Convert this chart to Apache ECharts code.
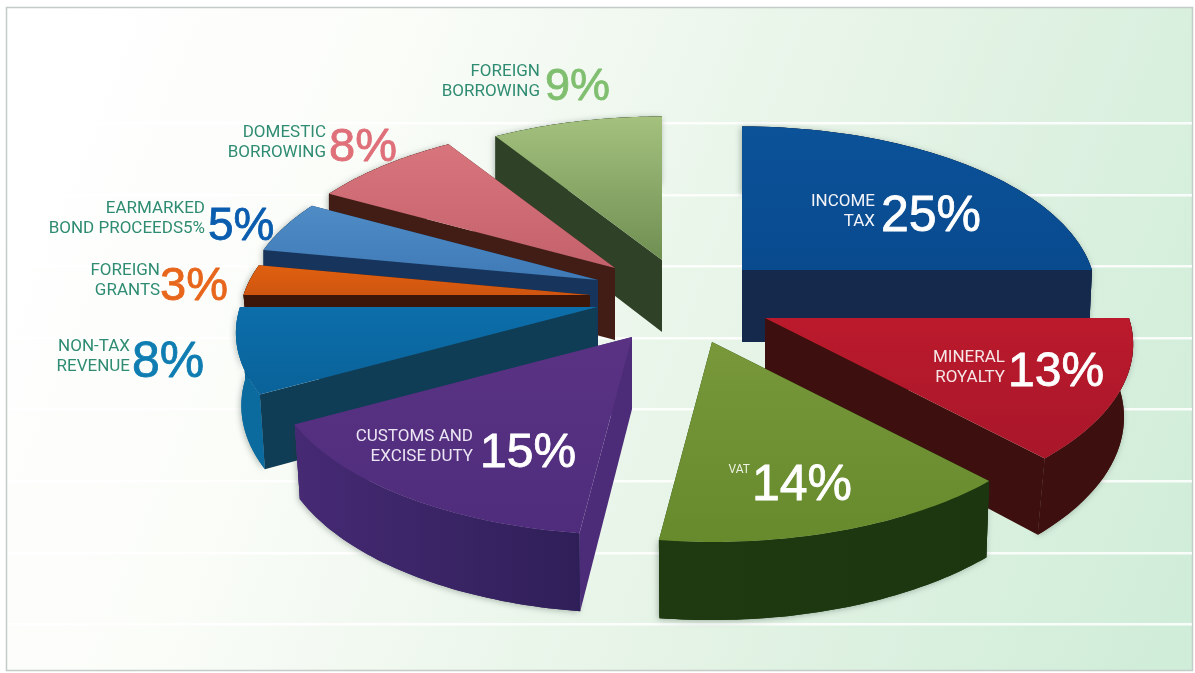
<!DOCTYPE html>
<html>
<head>
<meta charset="utf-8">
<style>html,body{margin:0;padding:0;background:#fff}#chart{width:1195px;height:673px}</style>
<script src="https://cdn.jsdelivr.net/npm/echarts@6/dist/echarts.min.js"></script>
</head>
<body>
<div id="chart"></div>
<script>
// Revenue sources, clockwise from twelve o'clock, in percent of the total.
const sources = ['INCOME\nTAX', 'MINERAL\nROYALTY', 'VAT', 'CUSTOMS AND\nEXCISE DUTY', 'NON-TAX\nREVENUE',
  'FOREIGN\nGRANTS', 'EARMARKED\nBOND PROCEEDS5%', 'DOMESTIC\nBORROWING', 'FOREIGN\nBORROWING'];
const shares = [25, 13, 14, 15, 8, 3, 5, 8, 9];

// Exploded position of each wedge's tip, its radial scale and how far its base tucks inward.
const tipX = [742, 765, 712, 632, 597, 590, 598, 615, 662];
const tipY = [270, 318, 342, 337, 307, 295, 280, 268, 260];
const radialScale = [1, 1.04, 1.03, 1.02, 1.02, 0.99, 1, 1, 1];
const baseInset = [0.99, 0.975, 0.99, 0.985, 0.985, 0.98, 1, 1, 1];

// Face colours of each wedge.
const topLight = ['#0b5299', '#bb1a2c', '#78983a', '#5a3284', '#0c6eaa', '#e0600f', '#4f8cc6', '#d8747c', '#a4c17e'];
const topDark = ['#094a8e', '#a9162a', '#668a2c', '#4f2d7c', '#0a6299', '#cf5510', '#3f7ab6', '#c4626c', '#6f8f52'];
const wallLeft = ['#14294b', '#3d0f0e', '#1f3a10', '#462a74', '#0b6a9e', '#3c1608', '#17355c', '#421d16', '#2f4228'];
const wallRight = ['#14294b', '#3d0f0e', '#1c3610', '#2f1f58', '#0b6a9e', '#3c1608', '#17355c', '#421d16', '#2f4228'];
const radialFace = ['#14294b', '#3d0f0e', '#1f3a10', '#4c2c78', '#103d56', '#3c1608', '#17355c', '#421d16', '#2f4228'];

// Percentage anchors, and where each caption ends.
const labelX = [881, 1008, 752, 480, 132, 160, 208, 329, 545];
const labelY = [217, 373, 486, 454, 363, 287, 227, 148, 88];
const labelSize = [50, 48, 50, 48, 50, 47, 46, 47, 45];
const captionX = [875, 1005, 750, 473, 130, 160, 205, 326, 540];
const captionY = [212, 368, 470, 447, 357, 281, 219, 143, 82];
const captionColor = ['#f4f4f8', '#f6e6e6', '#eef2e4', '#ece6f4', '#2f8c72', '#2f8c72', '#2f8c72', '#2f8c72', '#2f8c72'];
const percentColor = ['#ffffff', '#ffffff', '#ffffff', '#ffffff', '#0f7db2', '#e8661c', '#0a5cae', '#df6f79', '#80bf70'];

// Horizontal bands of the backdrop.
const bandY = [122, 194, 265, 337, 408, 480, 552, 623];

const RX = 350, RY = 165, TILT = 0.15, DEPTH = 72;

// Cumulative share to clockwise angle from twelve o'clock.
const startAngle = [];
shares.reduce((sum, v, i) => { startAngle[i] = sum / 100 * Math.PI * 2; return sum + v; }, 0);

// Project a point of the tilted disc: nearer parts appear larger.
function project(i, theta, down) {
  const u = Math.sin(theta), v = Math.cos(theta);
  const f = 1 / (1 + TILT * v);
  const s = radialScale[i];
  const x = tipX[i] + RX * s * u * f;
  const y = tipY[i] - RY * s * v * f;
  if (!down) return [x, y];
  return [tipX[i] + (x - tipX[i]) * baseInset[i], y + DEPTH * Math.sqrt(f)];
}

function tipPoint(i, down) {
  return [tipX[i], tipY[i] + (down ? DEPTH : 0)];
}

function arc(i, a0, a1, down) {
  const pts = [];
  const n = 48;
  for (let k = 0; k <= n; k++) pts.push(project(i, a0 + (a1 - a0) * k / n, down));
  return pts;
}

// Painter's order: wedges with a tip further up the page are drawn first.
const paintRank = tipY.map((y, i) => [y, i]).sort((a, b) => a[0] - b[0]).map(p => p[1]);

function renderWedge(params, api) {
  const i = params.dataIndex;
  const value = api.value(0);
  const a0 = startAngle[i];
  const a1 = a0 + value / 100 * Math.PI * 2;
  const base = (paintRank.indexOf(i) + 1) * 10;
  const wallPoints = arc(i, a0, a1, false).concat(arc(i, a0, a1, true).reverse());
  const wallFill = {
    type: 'linear', x: 0, y: 0, x2: 1, y2: 0,
    colorStops: [{ offset: 0, color: wallLeft[i] }, { offset: 1, color: wallRight[i] }]
  };

  // The soft drop shadow sits under the whole wedge, so it never falls on its own faces.
  const shadowed = {
    type: 'polygon',
    z2: base - 1,
    shape: { points: wallPoints },
    style: {
      fill: wallFill,
      shadowBlur: 6, shadowColor: 'rgba(30,50,40,0.35)', shadowOffsetX: -1, shadowOffsetY: 1
    }
  };
  const radial = a => ({
    type: 'polygon',
    z2: base,
    shape: { points: [tipPoint(i, false), project(i, a, false), project(i, a, true), tipPoint(i, true)] },
    style: { fill: radialFace[i] }
  });
  const outer = {
    type: 'polygon',
    z2: base + 1,
    shape: { points: wallPoints },
    style: { fill: wallFill }
  };
  const top = {
    type: 'polygon',
    z2: base + 2,
    shape: { points: [tipPoint(i, false)].concat(arc(i, a0, a1, false)) },
    style: {
      fill: {
        type: 'linear', x: 0, y: 0, x2: 0, y2: 1,
        colorStops: [{ offset: 0, color: topLight[i] }, { offset: 1, color: topDark[i] }]
      }
    }
  };
  const percent = {
    type: 'text',
    z2: 200,
    style: {
      text: value + '%', x: labelX[i], y: labelY[i],
      align: 'left', verticalAlign: 'middle',
      fontFamily: 'Liberation Sans', fontSize: labelSize[i],
      fill: percentColor[i], stroke: percentColor[i], lineWidth: 0.8
    }
  };
  const caption = {
    type: 'text',
    z2: 200,
    style: {
      text: sources[i], x: captionX[i], y: captionY[i],
      align: 'right', verticalAlign: 'middle',
      fontFamily: 'Roboto', fontSize: i === 2 ? 12 : 17, lineHeight: 20,
      fill: captionColor[i]
    }
  };
  return { type: 'group', children: [shadowed, radial(a0), radial(a1), outer, top, percent, caption] };
}

const backdrop = [{
  type: 'rect',
  shape: { x: 6.5, y: 7.5, width: 1186, height: 663 },
  style: {
    fill: {
      type: 'linear', x: 0, y: 0.15, x2: 1, y2: 0.85,
      colorStops: [
        { offset: 0, color: '#ffffff' },
        { offset: 0.25, color: '#fbfdf9' },
        { offset: 0.65, color: '#e4f3e5' },
        { offset: 1, color: '#d0edd9' }
      ]
    },
    stroke: '#c3ccc7', lineWidth: 1.5
  }
}].concat(bandY.map(y => ({
  type: 'rect',
  shape: { x: 8, y: y, width: 1184, height: 2.5 },
  style: { fill: '#ffffff', opacity: 0.85 }
})));

const chart = echarts.init(document.getElementById('chart'), null, { renderer: 'canvas' });
chart.setOption({
  animation: false,
  backgroundColor: '#ffffff',
  graphic: backdrop,
  series: [{
    type: 'custom',
    coordinateSystem: 'none',
    renderItem: renderWedge,
    encode: { value: 0, itemName: 1 },
    data: shares.map((v, i) => [v, sources[i]])
  }]
});
</script>
</body>
</html>
